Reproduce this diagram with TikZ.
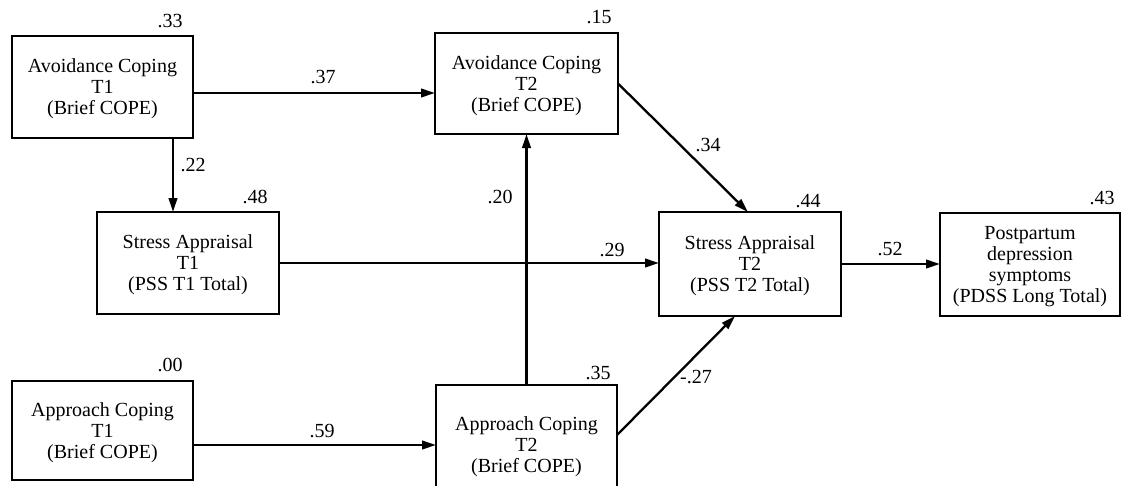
\documentclass[tikz,border=0pt]{standalone}
\usepackage{fontspec}
\setmainfont{Liberation Serif}
\usetikzlibrary{arrows.meta,calc}
\newcommand{\tstrut}{\rule{0pt}{18pt}}
\begin{document}
\begin{tikzpicture}[x=1pt,y=-1pt,
  box/.style={draw, line width=2.7pt, align=center, inner sep=0pt, outer sep=0pt,
    font=\fontsize{20}{21}\selectfont},
  lbl/.style={inner sep=0pt, font=\fontsize{20}{21}\selectfont},
  conn/.style={line width=2.3pt, -{Triangle[length=14pt,width=8.5pt]}}]
\path[use as bounding box] (0,0) rectangle (1122,485);
\clip (0,0) rectangle (1122,485);
% boxes
\node[box, minimum width=181, minimum height=102] (avt1) at (102.5,87) {\tstrut Avoidance Coping\\T1\\(Brief COPE)};
\node[box, minimum width=183, minimum height=101] (avt2) at (526.5,83.5) {\tstrut Avoidance Coping\\T2\\(Brief COPE)};
\node[box, minimum width=182, minimum height=102] (sa1) at (188,263) {\tstrut Stress Appraisal\\T1\\(PSS T1 Total)};
\node[box, minimum width=182, minimum height=104] (sa2) at (750,264) {\tstrut Stress Appraisal\\T2\\(PSS T2 Total)};
\node[box, minimum width=180, minimum height=103] (pdss) at (1030,264.5) {\tstrut Postpartum\\depression\\symptoms\\(PDSS Long Total)};
\node[box, minimum width=181, minimum height=99] (apt1) at (102.5,430.5) {\tstrut Approach Coping\\T1\\(Brief COPE)};
\node[box, minimum width=181, minimum height=120] (apt2) at (526.5,445) {\tstrut Approach Coping\\T2\\(Brief COPE)};
% variance labels
\node[lbl] (r1) at (170,21) {.33};
\node[lbl] (r2) at (599,17) {.15};
\node[lbl] (r3) at (255,197) {.48};
\node[lbl] (r4) at (808,201) {.44};
\node[lbl] (r5) at (1102,198) {.43};
\node[lbl] (r6) at (170,365) {.00};
\node[lbl] (r7) at (598,373) {.35};
% connectors
\coordinate (p37) at ([yshift=-6pt]avt1.east);
\draw[conn] (p37) -- (p37 -| avt2.west);
\coordinate (p22) at ([xshift=70.5pt]avt1.south);
\draw[conn] (p22) -- (p22 |- sa1.north);
\draw[conn] (sa1.east) -- (sa1.east -| sa2.west);
\draw[conn] (apt2.north) -- (avt2.south);
\draw[conn] (avt2.east) -- ([xshift=-2pt]sa2.north);
\draw[conn] (sa2.east) -- (sa2.east -| pdss.west);
\coordinate (p59) at (apt1.east |- apt2.west);
\draw[conn] (p59) -- (apt2.west);
\draw[conn] ([yshift=10pt]apt2.east) -- ([xshift=-15pt]sa2.south);
% path labels
\node[lbl] (l37) at (323,77) {.37};
\node[lbl] (l22) at (193,165) {.22};
\node[lbl] (l29) at (612,250) {.29};
\node[lbl] (l20) at (500,197) {.20};
\node[lbl] (l34) at (708,145) {.34};
\node[lbl] (l52) at (890,249) {.52};
\node[lbl] (l59) at (322,431) {.59};
\node[lbl] (l27) at (696,377) {-.27};
\end{tikzpicture}
\end{document}
